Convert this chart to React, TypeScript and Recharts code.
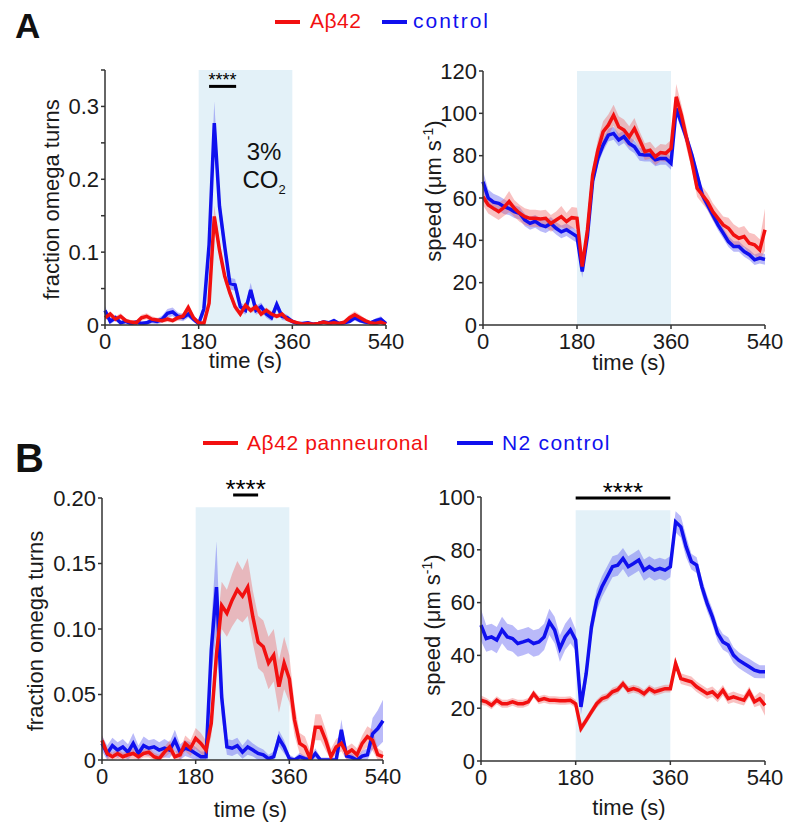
import React from 'react';
import {
  ComposedChart, Line, Area, XAxis, YAxis, ReferenceArea, ReferenceLine,
} from 'recharts';

const FONT = '"Liberation Sans", Arial, Helvetica, sans-serif';
const RED = '#f21010';
const BLUE = '#1010ee';
const SHADE = '#e3f1f8';
const INK = '#1a1a1a';

// sample times (s)
const time = [
  0, 10, 20, 30, 40, 50, 60, 70, 80, 90, 100, 110, 120, 130, 140, 150, 160, 170, 180, 190,
  200, 210, 220, 230, 240, 250, 260, 270, 280, 290, 300, 310, 320, 330, 340, 350, 360, 370, 380, 390,
  400, 410, 420, 430, 440, 450, 460, 470, 480, 490, 500, 510, 520, 530, 540,
];
const xTicks = [0, 180, 360, 540];

// A – fraction omega turns
const omegaCtrlA = [
  0.02, 0.005, 0.01, 0.003, 0.005, 0.002, 0.004, 0.002, 0.003, 0.006,
  0.005, 0.008, 0.016, 0.018, 0.012, 0.01, 0.015, 0.008, 0.002, 0.022,
  0.11, 0.277, 0.163, 0.108, 0.057, 0.055, 0.025, 0.02, 0.048, 0.02,
  0.025, 0.015, 0.01, 0.028, 0.012, 0.01, 0.005, 0.002, 0.002, 0.003,
  0.001, 0.002, 0.004, 0.003, 0.006, 0.002, 0.003, 0.005, 0.01, 0.006,
  0.004, 0.003, 0.006, 0.008, 0.002,
];
const omegaCtrlASem = [
  0.006, 0.004, 0.004, 0.003, 0.003, 0.003, 0.003, 0.003, 0.003, 0.004,
  0.004, 0.005, 0.006, 0.006, 0.005, 0.005, 0.005, 0.004, 0.004, 0.008,
  0.02, 0.03, 0.018, 0.012, 0.008, 0.008, 0.006, 0.006, 0.01, 0.006,
  0.006, 0.005, 0.005, 0.007, 0.005, 0.004, 0.003, 0.002, 0.002, 0.002,
  0.002, 0.002, 0.003, 0.002, 0.003, 0.002, 0.002, 0.003, 0.004, 0.003,
  0.003, 0.002, 0.003, 0.004, 0.002,
];
const omegaAbetaA = [
  0.01, 0.015, 0.008, 0.012, 0.006, 0.004, 0.003, 0.01, 0.012, 0.008,
  0.007, 0.006, 0.008, 0.006, 0.01, 0.012, 0.024, 0.01, 0.003, 0.002,
  0.03, 0.149, 0.103, 0.067, 0.044, 0.025, 0.015, 0.027, 0.02, 0.025,
  0.015, 0.02, 0.015, 0.012, 0.015, 0.008, 0.005, 0.003, 0.001, 0.002,
  0.001, 0.002, 0.004, 0.002, 0.003, 0.002, 0.004, 0.01, 0.014, 0.01,
  0.006, 0.003, 0.002, 0.004, 0.001,
];
const omegaAbetaASem = [
  0.004, 0.004, 0.004, 0.004, 0.003, 0.003, 0.003, 0.004, 0.004, 0.004,
  0.003, 0.003, 0.004, 0.003, 0.004, 0.004, 0.006, 0.004, 0.003, 0.003,
  0.006, 0.015, 0.01, 0.008, 0.006, 0.005, 0.004, 0.005, 0.004, 0.005,
  0.004, 0.004, 0.004, 0.003, 0.004, 0.003, 0.003, 0.002, 0.002, 0.002,
  0.002, 0.002, 0.003, 0.002, 0.002, 0.002, 0.003, 0.004, 0.005, 0.004,
  0.003, 0.002, 0.002, 0.003, 0.002,
];

// A – speed
const speedCtrlA = [
  67.7, 60, 58, 57.5, 56, 55, 53.6, 52.8, 49.6, 48,
  49, 47.3, 46.5, 48, 45.7, 44, 45, 43.4, 41.8, 25.3,
  42, 68, 78.7, 85, 89.7, 90.5, 87.4, 89, 85.8, 84.2,
  80.6, 80.3, 80.3, 78, 78.7, 78.7, 76.4, 102.3, 95.2, 88.1,
  80.3, 70.9, 61.4, 56.7, 52, 47.3, 43.4, 39.4, 37.1, 37.1,
  34.7, 33.2, 30.8, 31.6, 31,
];
const speedCtrlASem = [
  5, 4, 4, 3.5, 3.5, 3, 3, 3, 3, 3,
  3, 3, 3, 3, 3, 3, 3, 3, 3, 3,
  3, 3, 3, 3, 3, 3, 3, 3, 3, 3,
  3, 3, 3, 3, 3, 3, 3, 3, 3, 3,
  3, 3, 2.5, 2.5, 2.5, 2.5, 2.5, 2.5, 2.5, 2.5,
  2.5, 2.5, 2.5, 2.5, 2.5,
];
const speedAbetaA = [
  60.6, 56.7, 55.1, 53.6, 55.5, 58.3, 55.1, 52.8, 51.2, 50.4,
  50.4, 50.1, 50.4, 48, 49.6, 51.2, 48.9, 50.7, 50.4, 27.6,
  45, 70.9, 82.6, 91.3, 94.4, 99.1, 93.6, 92.1, 88.9, 92.8,
  87.4, 81.9, 82.6, 79.5, 81.5, 81.1, 83.4, 107.8, 99.1, 88.1,
  77.1, 64.6, 61.4, 58.3, 53.6, 50.4, 47.3, 45.7, 42.6, 41,
  41.8, 38.6, 37.9, 35.5, 45,
];
const speedAbetaASem = [
  4, 4, 4, 4, 4, 5, 4, 4, 4, 4,
  4, 4, 4, 4, 4, 5, 4, 5, 5, 3,
  4, 4, 5, 5, 5, 5, 5, 5, 5, 5,
  4, 4, 4, 4, 4, 4, 4, 6, 5, 5,
  4, 4, 4, 4, 4, 4, 4, 5, 5, 5,
  5, 5, 5, 5, 10,
];

// B – fraction omega turns
const omegaCtrlB = [
  0.0127, 0.005, 0.011, 0.0076, 0.01, 0.006, 0.0127, 0.005, 0.011, 0.009,
  0.01, 0.0076, 0.009, 0.0076, 0.015, 0.006, 0.009, 0.0076, 0.005, 0.0025,
  0.0025, 0.084, 0.132, 0.048, 0.01, 0.009, 0.011, 0.006, 0.01, 0.0076,
  0.005, 0.004, 0.001, 0.0025, 0.0165, 0.01, 0.001, 0, 0.0025, 0.001,
  0, 0.005, 0, 0, 0, 0, 0.023, 0.003, 0.002, 0,
  0.003, 0.004, 0.02, 0.024, 0.03,
];
const omegaCtrlBSem = [
  0.006, 0.006, 0.006, 0.006, 0.006, 0.006, 0.008, 0.006, 0.007, 0.006,
  0.006, 0.006, 0.007, 0.006, 0.008, 0.006, 0.006, 0.006, 0.005, 0.004,
  0.004, 0.02, 0.035, 0.015, 0.006, 0.006, 0.006, 0.005, 0.006, 0.005,
  0.005, 0.004, 0.003, 0.004, 0.006, 0.005, 0.003, 0.002, 0.003, 0.002,
  0.002, 0.004, 0.002, 0.002, 0.002, 0.002, 0.008, 0.003, 0.003, 0.002,
  0.004, 0.005, 0.012, 0.014, 0.016,
];
const omegaAbetaB = [
  0.015, 0.005, 0.0025, 0.005, 0.0025, 0.004, 0.005, 0.0025, 0.005, 0.006,
  0.0025, 0.001, 0.006, 0.01, 0.0025, 0.004, 0.0127, 0.009, 0.0165, 0.0127,
  0.0076, 0.028, 0.081, 0.118, 0.112, 0.122, 0.13, 0.125, 0.132, 0.109,
  0.09, 0.0865, 0.074, 0.08, 0.056, 0.074, 0.062, 0.0305, 0.0127, 0.01,
  0.001, 0.025, 0.025, 0.015, 0.0025, 0.01, 0.0127, 0.005, 0.0076, 0.004,
  0.0127, 0.0178, 0.015, 0.004, 0.0025,
];
const omegaAbetaBSem = [
  0.004, 0.004, 0.003, 0.004, 0.003, 0.003, 0.004, 0.003, 0.003, 0.004,
  0.003, 0.003, 0.004, 0.005, 0.004, 0.004, 0.006, 0.006, 0.008, 0.008,
  0.007, 0.01, 0.015, 0.018, 0.018, 0.02, 0.022, 0.02, 0.022, 0.02,
  0.02, 0.02, 0.02, 0.02, 0.02, 0.02, 0.018, 0.012, 0.008, 0.008,
  0.006, 0.01, 0.01, 0.008, 0.006, 0.006, 0.006, 0.005, 0.005, 0.005,
  0.006, 0.008, 0.008, 0.005, 0.004,
];

// B – speed
const speedCtrlB = [
  51.5, 46.4, 47, 45.8, 49.6, 47, 46.4, 44.5, 45.1, 45.8,
  44.5, 45.1, 47, 52.7, 49.6, 42.6, 47, 49.6, 45.8, 20.5,
  33.1, 50.8, 60.9, 66, 69.8, 73.6, 74.2, 76.7, 73.6, 74.8,
  76.1, 72.3, 73.6, 72.3, 73, 72.3, 73.6, 90.6, 88.7, 81.2,
  75.5, 74.2, 66, 59.7, 54.6, 48.3, 45.1, 43.9, 40.1, 38.2,
  36.9, 35.7, 34.4, 33.8, 33.8,
];
const speedCtrlBSem = [
  6, 5, 5, 5, 5, 5, 5, 5, 5, 5,
  5, 5, 5, 5, 5, 5, 5, 5, 4, 3,
  4, 4, 4, 4, 4, 4, 4, 4, 4, 4,
  4, 4, 4, 4, 4, 4, 4, 4, 4, 4,
  3, 3, 3, 3, 3, 3, 3, 3, 3, 3,
  3, 3, 3, 2.5, 2.5,
];
const speedAbetaB = [
  23, 22.4, 21.1, 23, 21.7, 21.7, 22.4, 21.7, 21.7, 22.4,
  25.5, 23, 23.6, 23, 23, 22.8, 22.8, 23, 21.7, 12.3,
  15.4, 18.6, 21.7, 23.6, 24.3, 26.2, 27, 29.3, 26.8, 27.4,
  26.8, 25.5, 27.4, 26.2, 26.8, 27.4, 27.4, 36.9, 31.2, 30.6,
  30, 28.1, 26.8, 25.5, 26.2, 24.3, 26.8, 23.6, 24.3, 23.6,
  23, 26.2, 22.4, 23.6, 21.1,
];
const speedAbetaBSem = [
  1.8, 1.5, 1.5, 1.5, 1.5, 1.5, 1.5, 1.5, 1.5, 1.5,
  1.5, 1.5, 1.5, 1.5, 1.5, 1.5, 1.5, 1.5, 1.5, 1.5,
  1.5, 1.5, 1.5, 1.5, 1.5, 1.5, 1.5, 1.5, 1.5, 1.5,
  1.5, 1.5, 1.5, 1.5, 1.5, 1.5, 1.5, 2, 2, 2,
  2, 2, 2, 2, 2, 2, 2, 2, 2, 2,
  2, 2, 2, 2.5, 4,
];

function buildRows(red: number[], redSem: number[], blue: number[], blueSem: number[]) {
  return time.map((t, i) => ({
    t,
    red: red[i],
    blue: blue[i],
    redBand: [Math.max(0, red[i] - redSem[i]), red[i] + redSem[i]],
    blueBand: [Math.max(0, blue[i] - blueSem[i]), blue[i] + blueSem[i]],
  }));
}

const ML = 90, MT = 40, MR = 20, XH = 70;

type Sig = { x1: number; x2: number; y: number; size: number; offset: number };
type PanelProps = {
  left: number; top: number; w: number; h: number;
  red: number[]; redSem: number[]; blue: number[]; blueSem: number[];
  yMax: number; yTicks: number[]; yFmt: (v: number, i: number) => string;
  shadeTop: number;
  yLabel: React.ReactNode; yOff: number; yDy: number;
  xDx: number; xDy: number;
  sig?: Sig;
};

function YLab({ p }: { p: PanelProps }) {
  const cx = ML - p.yOff + 6;
  const cy = MT + p.h / 2 + p.yDy;
  return (
    <text transform={`translate(${cx},${cy}) rotate(-90)`} textAnchor="middle"
      fontSize={22} fontFamily={FONT} fill={INK}>{p.yLabel}</text>
  );
}

function XLab({ p }: { p: PanelProps }) {
  return (
    <text x={ML + p.w / 2 + p.xDx} y={MT + p.h + p.xDy} textAnchor="middle"
      fontSize={22} fontFamily={FONT} fill={INK}>time (s)</text>
  );
}

function Panel(p: PanelProps) {
  const rows = buildRows(p.red, p.redSem, p.blue, p.blueSem);
  const tick = { fontSize: 22, fill: INK, fontFamily: FONT };
  return (
    <div style={{ position: 'absolute', left: p.left - ML, top: p.top - MT }}>
      <ComposedChart width={ML + p.w + MR} height={MT + p.h + XH} data={rows}
        margin={{ top: MT, right: MR, bottom: 0, left: 0 }}>
        <ReferenceArea x1={180} x2={360} y1={0} y2={p.shadeTop} fill={SHADE} fillOpacity={1} stroke="none" />
        <XAxis dataKey="t" type="number" domain={[0, 540]} ticks={xTicks} height={XH}
          stroke="#333" strokeWidth={1.5} tickSize={4} tickMargin={4} tick={tick}
          label={<XLab p={p} />} />
        <YAxis type="number" domain={[0, p.yMax]} ticks={p.yTicks} width={ML} allowDataOverflow
          stroke="#333" strokeWidth={1.5} tickSize={4} tickMargin={2} tick={tick}
          tickFormatter={p.yFmt} label={<YLab p={p} />} />
        <Area dataKey="blueBand" type="linear" stroke="none" fill="#5b5bf0" fillOpacity={0.42} isAnimationActive={false} />
        <Area dataKey="redBand" type="linear" stroke="none" fill="#ef5d5d" fillOpacity={0.38} isAnimationActive={false} />
        <Line dataKey="blue" type="linear" stroke={BLUE} strokeWidth={3.5} dot={false} activeDot={false} isAnimationActive={false} />
        <Line dataKey="red" type="linear" stroke={RED} strokeWidth={3.5} dot={false} activeDot={false} isAnimationActive={false} />
        {p.sig && (
          <ReferenceLine segment={[{ x: p.sig.x1, y: p.sig.y }, { x: p.sig.x2, y: p.sig.y }]}
            stroke="#000" strokeWidth={3} ifOverflow="visible"
            label={{ value: '****', position: 'top', offset: p.sig.offset, fontSize: p.sig.size, fill: '#000', fontFamily: FONT }} />
        )}
      </ComposedChart>
    </div>
  );
}

const speedLabel = (
  <>
    <tspan>speed (μm s</tspan>
    <tspan dy={-8} fontSize={14}>-1</tspan>
    <tspan dy={8}>)</tspan>
  </>
);

const abs = (left: number, top: number): React.CSSProperties => ({ position: 'absolute', left, top });

export default function App() {
  return (
    <div style={{ position: 'absolute', left: 0, top: 0, width: 786, height: 826, background: '#fff', fontFamily: FONT }}>
      {/* panel letters */}
      <div style={{ ...abs(15, 8), fontSize: 35, fontWeight: 'bold', lineHeight: 1, color: '#111' }}>A</div>
      <div style={{ ...abs(15, 438), fontSize: 40, fontWeight: 'bold', lineHeight: 1, color: '#111' }}>B</div>

      {/* legend A */}
      <div style={{ ...abs(275, 20), width: 25, height: 3.5, background: RED }} />
      <div style={{ ...abs(310, 10), fontSize: 21, lineHeight: 1, color: RED, letterSpacing: 0.5 }}>Aβ42</div>
      <div style={{ ...abs(382, 20), width: 25, height: 3.5, background: BLUE }} />
      <div style={{ ...abs(413, 10), fontSize: 21, lineHeight: 1, color: BLUE, letterSpacing: 2 }}>control</div>

      {/* legend B */}
      <div style={{ ...abs(203, 441), width: 35, height: 3.5, background: RED }} />
      <div style={{ ...abs(247, 432), fontSize: 21, lineHeight: 1, color: RED, letterSpacing: 0.6 }}>Aβ42 panneuronal</div>
      <div style={{ ...abs(457, 441), width: 36, height: 3.5, background: BLUE }} />
      <div style={{ ...abs(502, 432), fontSize: 21, lineHeight: 1, color: BLUE, letterSpacing: 1.3 }}>N2 control</div>

      <Panel left={105} top={70} w={281} h={255}
        red={omegaAbetaA} redSem={omegaAbetaASem} blue={omegaCtrlA} blueSem={omegaCtrlASem}
        yMax={0.35} yTicks={[0, 0.05, 0.1, 0.15, 0.2, 0.25, 0.3, 0.35]}
        yFmt={(v, i) => (i % 2 === 0 && i < 7 ? (v === 0 ? '0' : v.toFixed(1)) : '')}
        shadeTop={0.35} yLabel="fraction omega turns" yOff={52} yDy={2} xDx={0} xDy={43}
        sig={{ x1: 200, x2: 252, y: 0.3275, size: 18, offset: 0 }} />

      <Panel left={483} top={71} w={282} h={254}
        red={speedAbetaA} redSem={speedAbetaASem} blue={speedCtrlA} blueSem={speedCtrlASem}
        yMax={120} yTicks={[0, 20, 40, 60, 80, 100, 120]} yFmt={(v) => String(v)}
        shadeTop={120} yLabel={speedLabel} yOff={48} yDy={-7} xDx={5} xDy={45} />

      <Panel left={102} top={498} w={281} h={262}
        red={omegaAbetaB} redSem={omegaAbetaBSem} blue={omegaCtrlB} blueSem={omegaCtrlBSem}
        yMax={0.2} yTicks={[0, 0.05, 0.1, 0.15, 0.2]}
        yFmt={(v) => (v === 0 ? '0' : v.toFixed(2))}
        shadeTop={0.193} yLabel="fraction omega turns" yOff={65} yDy={2} xDx={8} xDy={57}
        sig={{ x1: 252, x2: 300, y: 0.2023, size: 26, offset: -3 }} />

      <Panel left={481} top={497} w={284} h={264}
        red={speedAbetaB} redSem={speedAbetaBSem} blue={speedCtrlB} blueSem={speedCtrlBSem}
        yMax={100} yTicks={[0, 20, 40, 60, 80, 100]} yFmt={(v) => String(v)}
        shadeTop={95} yLabel={speedLabel} yOff={47} yDy={-4} xDx={6} xDy={54}
        sig={{ x1: 180, x2: 360, y: 99.6, size: 26, offset: -3 }} />

      {/* 3% CO2 annotation */}
      <div style={{ ...abs(224, 138), width: 80, textAlign: 'center', fontSize: 24, lineHeight: '28px', color: '#111' }}>
        3%<br />CO<span style={{ fontSize: 13, position: 'relative', top: 6 }}>2</span>
      </div>
    </div>
  );
}
